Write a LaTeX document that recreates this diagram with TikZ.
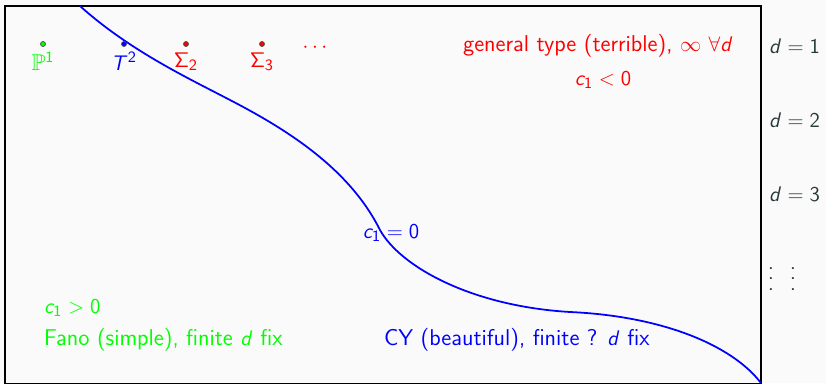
\documentclass[tikz,border=0pt]{standalone}
\usepackage{amssymb}
\usetikzlibrary{positioning}
\DeclareMathAlphabet{\mathsfit}{OT1}{cmss}{m}{sl}
\newcommand\sv[1]{\mathsfit{#1}}
\newcommand\sn[1]{\mathsf{#1}}
\definecolor{bgpaper}{RGB}{250,250,250}
\definecolor{dtext}{RGB}{40,56,56}
\begin{document}
\begin{tikzpicture}[x=0.02cm, y=-0.02cm,
  font=\fontsize{13}{15}\selectfont\sffamily,
  pt/.style={circle, draw=black!70, inner sep=0pt, minimum size=0.1cm},
  lbl/.style={inner sep=1pt},
  deg/.style={lbl, dtext, anchor=west},
  vdot/.style={lbl, dtext, align=center, font=\fontsize{13}{6.2}\selectfont\sffamily},
  curve/.style={blue, line width=1pt}
]
\fill[bgpaper] (0,0) rectangle (826,383);
\useasboundingbox (0,0) rectangle (826,383);
\draw[line width=0.6pt] (5,6) rectangle (761,384);
% the curve c_1 = 0
\coordinate (ctop) at (80,6);
\coordinate (cbot) at (761,383);
\draw[curve] (ctop) .. controls (130,51) and (190,79) .. (230,100)
  .. controls (290,131) and (350,170) .. (380,230)
  .. controls (400,266) and (470,306) .. (570,312)
  .. controls (660,316) and (731,344) .. (cbot);
% points
\node[pt, fill=green] (p1)   at (43,44) {};
\node[pt, fill=blue]  (t2)   at (124,44) {};
\node[pt, fill=red]   (sig2) at (186,44) {};
\node[pt, fill=red]   (sig3) at (262,44) {};
\node[lbl, green, below=2pt of p1]  {$\mathbb{P}^{\sn{1}}$};
\node[lbl, blue, below=2pt of t2]   {$\sv{T}^{\sn{2}}$};
\node[lbl, red, below=2pt of sig2]  {$\sn{\Sigma}_{\sn{2}}$};
\node[lbl, red, below=2pt of sig3]  {$\sn{\Sigma}_{\sn{3}}$};
\node[lbl, red] (dots) at (315,48) {$\cdots$};
% regions
\node[lbl, red]   (general) at (598,46)  {general type (terrible), $\infty\ \forall \sv{d}$};
\node[lbl, red]   (cneg)    at (603,80)  {$\sv{c}_{\sn{1}}<\sn{0}$};
\node[lbl, blue]  (czero)   at (391,233) {$\sv{c}_{\sn{1}}=\sn{0}$};
\node[lbl, green, anchor=west] (cpos) at (42,308) {$\sv{c}_{\sn{1}}>\sn{0}$};
\node[lbl, green, anchor=west] (fano) at (42,340) {Fano (simple), finite $\sv{d}$ fix};
\node[lbl, blue, anchor=west]  (cy)   at (382,340) {CY (beautiful), finite ? $\sv{d}$ fix};
% degrees
\node[deg] (d1) at (767,46)  {$\sv{d}=\sn{1}$};
\node[deg] (d2) at (767,120) {$\sv{d}=\sn{2}$};
\node[deg] (d3) at (767,194) {$\sv{d}=\sn{3}$};
\node[vdot] (vd1) at (771,279) {.\\.\\.};
\node[vdot] (vd2) at (793,279) {.\\.\\.};
\end{tikzpicture}
\end{document}
